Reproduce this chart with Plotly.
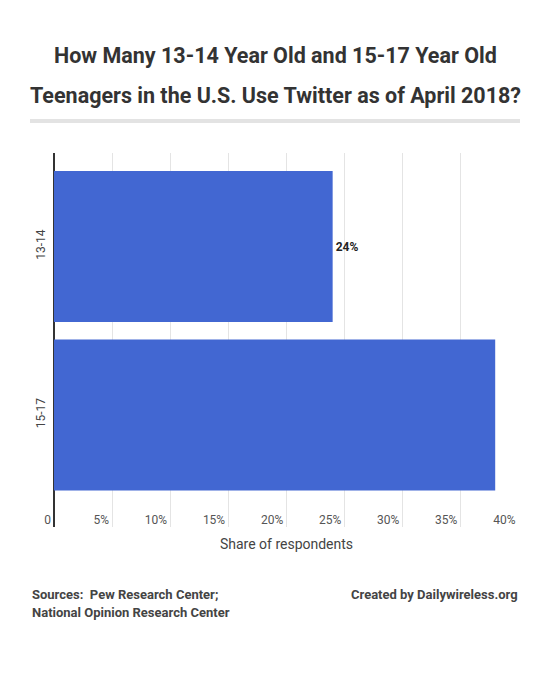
import plotly.graph_objects as go

# ---- data ----
categories = ["13-14", "15-17"]
values = [24, 38]
value_labels = ["24%", ""]
tick_vals = [0, 5, 10, 15, 20, 25, 30, 35, 40]
tick_text = ["0", "5%", "10%", "15%", "20%", "25%", "30%", "35%", "40%"]
title_lines = ["How Many 13-14 Year Old and 15-17 Year Old",
               "Teenagers in the U.S. Use Twitter as of April 2018?"]
source_lines = ["Sources:  Pew Research Center;", "National Opinion Research Center"]
credit = "Created by Dailywireless.org"
x_title = "Share of respondents"

W, H = 550, 683
L, R, T, B = 54, 31, 153, 156
PW, PH = W - L - R, H - T - B


def px(x):
    return (x - L) / PW


def py(y):
    return (H - B - y) / PH


FONT = "Roboto, 'Open Sans', sans-serif"

fig = go.Figure()
fig.add_trace(go.Bar(
    y=categories, x=values, orientation="h",
    marker=dict(color="#4267D2", line=dict(width=0)),
    width=0.896,
    text=value_labels, textposition="outside", cliponaxis=False,
    textfont=dict(family=FONT, size=12, color="#222", weight="bold"),
    hoverinfo="skip",
))

fig.update_layout(
    width=W, height=H,
    margin=dict(l=L, r=R, t=T, b=B, pad=0),
    paper_bgcolor="white", plot_bgcolor="white",
    showlegend=False,
    font=dict(family=FONT, color="#444"),
    xaxis=dict(
        range=[0, 40.05], tickvals=tick_vals, ticktext=tick_text,
        showgrid=True, gridcolor="#e4e4e4", gridwidth=1,
        zeroline=True, zerolinecolor="#333", zerolinewidth=2,
        ticks="", ticklabelposition="inside left",
        ticklabeloverflow="allow", ticklabelstandoff=-5, ticklabelshift=-3,
        tickfont=dict(family=FONT, size=12, color="#555"),
        title=dict(text=x_title, font=dict(family=FONT, size=14, color="#444"), standoff=13),
        showline=False,
    ),
    yaxis=dict(
        type="category", range=[1.665, -0.555],
        tickangle=-90, ticks="", showgrid=False, zeroline=False,
        tickfont=dict(family=FONT, size=12, color="#444"),
        ticklabelstandoff=6,
    ),
)

annotations = []
for i, line in enumerate(title_lines):
    annotations.append(dict(
        text=line, xref="paper", yref="paper", x=px(275), y=py([55, 95][i]),
        xanchor="center", yanchor="middle", showarrow=False,
        font=dict(family=FONT, size=21.5, color="#333", weight="bold"),
    ))
for i, line in enumerate(source_lines):
    annotations.append(dict(
        text=line, xref="paper", yref="paper", x=px(30), y=py([594, 612][i]),
        xanchor="left", yanchor="middle", showarrow=False,
        font=dict(family=FONT, size=13, color="#444", weight="bold"),
    ))
annotations.append(dict(
    text=credit, xref="paper", yref="paper", x=px(520), y=py(594),
    xanchor="right", yanchor="middle", showarrow=False,
    font=dict(family=FONT, size=13, color="#444", weight="bold"),
))
fig.update_layout(annotations=annotations)

fig.add_shape(type="rect", xref="paper", yref="paper",
              x0=px(30), x1=px(520), y0=py(123), y1=py(119),
              fillcolor="#e3e3e3", line=dict(width=0))

fig.write_html("out.html")
